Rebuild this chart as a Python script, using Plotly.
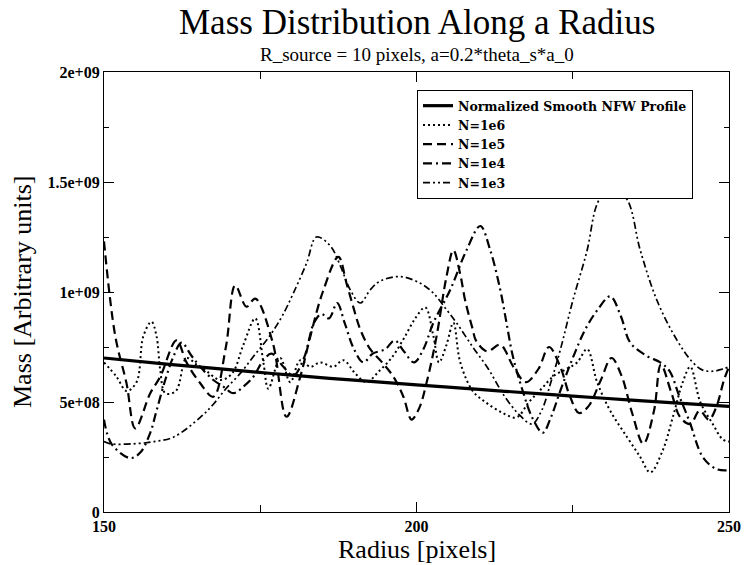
import plotly.graph_objects as go

# ---- data (mass in units of 1e8) ----
nfw_x = [150, 160, 170, 180, 190, 200, 210, 220, 230, 240, 250]
nfw_y = [7.0, 6.72, 6.47, 6.22, 5.99, 5.78, 5.57, 5.37, 5.17, 4.98, 4.8]

n1e6_x = [150, 152, 153.6, 155.2, 156.3, 157.6, 158.4, 159, 159.8, 161.5, 163.2, 164.8, 166.4, 168.6,
          170.5, 172.3, 174.2, 175.5, 176.3, 178.2, 179.8, 181.4, 183, 184.6, 186.7, 188.3, 190.2,
          192, 194, 196, 198, 199.8, 201.4, 202.7, 203.6, 204.8, 205.9, 207, 209, 211, 213.8, 216,
          218, 220, 222, 224, 225.7, 227.3, 228.9, 231, 233.7, 235.8, 237.4, 239.4, 241, 242.6,
          243.8, 245.4, 247.4, 249, 250]
n1e6_y = [6.8, 6.15, 5.5, 5.9, 8.0, 8.65, 8.0, 6.45, 5.4, 5.5, 7.0, 6.7, 6.4, 6.0,
          6.3, 7.6, 8.8, 6.8, 5.6, 7.0, 5.9, 6.9, 6.6, 6.8, 6.6, 6.9, 6.3,
          5.9, 6.4, 7.0, 7.9, 8.8, 9.3, 8.0, 6.8, 7.6, 8.6, 6.8, 5.5, 5.0, 4.5, 4.3,
          5.0, 5.6, 6.2, 6.5, 6.8, 7.4, 5.9, 4.6, 3.4, 2.5, 1.8, 2.8, 4.3, 5.9,
          6.6, 5.0, 4.0, 3.3, 3.2]

n1e5_x = [150, 151.8, 153.6, 155, 157.4, 159, 161.6, 163.2, 165.4, 167.5, 169.5, 171, 172.8, 174.2,
          177, 179.2, 181.4, 183, 185, 187.5, 188.8, 189.9, 191, 192.6, 194.5, 196.3, 197.9, 199.2,
          200.4, 201.6, 203.2, 204.8, 205.9, 207, 207.8, 209, 209.5, 211.3, 213.4, 215.5, 217.5,
          219.5, 221.2, 223, 224.5, 226, 227.5, 229.5, 231.2, 232.8, 234.5, 236.3, 238, 239.1,
          240.8, 242.2, 243.8, 245.3, 246.8, 248, 249.2, 250]
n1e5_y = [12.3, 8.0, 5.85, 3.8, 5.4, 6.15, 7.8, 6.8, 5.85, 5.24, 7.5, 10.3, 9.33, 9.7,
          7.7, 4.33, 6.15, 7.97, 10.0, 11.6, 10.4, 9.3, 8.3, 7.4, 6.8, 6.15, 5.24, 4.2,
          4.7, 5.86, 7.97, 10.7, 11.9, 10.8, 9.6, 8.3, 7.8, 7.3, 7.6, 6.6, 5.9,
          6.5, 7.5, 6.6, 5.3, 4.5, 4.8, 6.0, 7.0, 6.2, 4.5, 3.1, 4.6, 6.7,
          5.4, 4.3, 4.0, 4.6, 4.2, 4.8, 6.0, 6.6]

n1e4_x = [150, 151.2, 154.2, 155.8, 157.4, 158.4, 159.8, 161.1, 162.4, 164, 165.4, 167.5, 169.1,
          170.7, 172.3, 173.9, 175.5, 176.8, 178.7, 180.3, 182, 183.6, 184.8, 186, 187.3, 188.5,
          190, 191.5, 193, 195, 196.5, 198, 199.6, 201.1, 202.7, 205.4, 208, 210.2, 211.8, 213.4,
          214.4, 215.4, 217, 218.5, 220.2, 221.5, 223, 225, 227, 229, 231, 232.7, 234.2, 236.8,
          239, 240.5, 242, 243.7, 245.8, 248, 250]
n1e4_y = [4.2, 3.1, 2.45, 2.7, 3.6, 4.6, 6.0, 7.06, 7.7, 7.1, 6.6, 6.0, 5.7,
          5.4, 5.7, 6.15, 6.9, 7.2, 6.6, 6.2, 7.0, 8.6, 9.0, 8.8, 9.5, 8.6,
          7.4, 6.8, 7.2, 7.4, 7.8, 7.3, 6.8, 7.4, 8.6, 10.1, 11.9, 13.0, 11.9, 10.1,
          8.6, 7.1, 5.5, 4.3, 3.6, 4.3, 5.5, 7.0, 8.3, 9.2, 9.8, 8.9, 7.7, 7.1,
          6.8, 6.4, 5.3, 4.1, 2.5, 1.95, 1.9]

n1e3_x = [150, 151, 154.7, 158, 161.1, 165.4, 167.5, 169.5, 171.8, 174, 176.5, 178.5, 180.3, 182.4,
          184, 186.2, 187.8, 189.4, 191, 192.6, 194.2, 197.4, 200.6, 202.7, 204.8, 206.4, 209,
          211.5, 214, 216.5, 218.5, 220, 221.5, 223, 225, 227.3, 228.9, 231, 233.7, 235.8, 238.5,
          241.7, 244.2, 245.8, 247.5, 249, 250]
n1e3_y = [3.2, 3.1, 3.1, 3.2, 3.4, 4.3, 4.9, 5.6, 6.3, 7.1, 8.0, 8.9, 9.95, 11.3,
          12.5, 12.1, 11.2, 10.1, 9.5, 10.1, 10.5, 10.7, 10.4, 9.95, 9.2, 8.6, 7.5,
          6.5, 5.3, 4.4, 4.0, 4.6, 5.9, 7.36, 9.6, 11.9, 14.0, 14.9, 14.2, 11.9, 9.6,
          7.8, 6.8, 6.45, 6.4, 6.5, 6.6]

y_ticks = [0, 5e8, 1e9, 1.5e9, 2e9]
y_tick_text = ["0", "5e+08", "1e+09", "1.5e+09", "2e+09"]
x_ticks = [150, 200, 250]

SCALE = 1e8
SERIF = "Liberation Serif, Times New Roman, serif"
LEGEND_FONT = "DejaVu Serif, Liberation Serif, serif"


def scaled(v):
    return [a * SCALE for a in v]


fig = go.Figure()
fig.add_trace(go.Scatter(x=nfw_x, y=scaled(nfw_y), mode="lines", name="Normalized Smooth NFW Profile",
                         line=dict(color="black", width=3.2, shape="spline")))
fig.add_trace(go.Scatter(x=n1e6_x, y=scaled(n1e6_y), mode="lines", name="N=1e6",
                         line=dict(color="black", width=2, dash="2px,3px", shape="spline")))
fig.add_trace(go.Scatter(x=n1e5_x, y=scaled(n1e5_y), mode="lines", name="N=1e5",
                         line=dict(color="black", width=2.2, dash="9px,5px", shape="spline")))
fig.add_trace(go.Scatter(x=n1e4_x, y=scaled(n1e4_y), mode="lines", name="N=1e4",
                         line=dict(color="black", width=2.2, dash="9px,4px,2px,4px", shape="spline")))
fig.add_trace(go.Scatter(x=n1e3_x, y=scaled(n1e3_y), mode="lines", name="N=1e3",
                         line=dict(color="black", width=1.7, dash="7px,3px,2px,3px,2px,3px", shape="spline")))

axis_common = dict(showgrid=False, zeroline=False, showline=True, linecolor="black", linewidth=1.2,
                   mirror="ticks", ticks="inside", ticklen=10, tickwidth=1.2, tickcolor="black",
                   automargin=False,
                   tickfont=dict(family=SERIF, size=16, color="black", weight="bold"))

fig.update_xaxes(range=[150, 250], tickvals=x_ticks,
                 minor=dict(ticks="inside", ticklen=7, dtick=25, tickcolor="black"),
                 **axis_common)
fig.update_yaxes(range=[0, 2e9], tickvals=y_ticks, ticktext=y_tick_text,
                 minor=dict(ticks="inside", ticklen=5, dtick=2.5e8, tickcolor="black"),
                 **axis_common)

annotations = [
    dict(text="Mass Distribution Along a Radius", xref="paper", yref="paper", x=0.5, y=1,
         xanchor="center", yanchor="bottom", yshift=28, showarrow=False,
         font=dict(family=SERIF, size=35, color="black")),
    dict(text="R_source = 10 pixels, a=0.2*theta_s*a_0", xref="paper", yref="paper", x=0.5, y=1,
         xanchor="center", yanchor="bottom", yshift=5, showarrow=False,
         font=dict(family=SERIF, size=19, color="black")),
    dict(text="Radius [pixels]", xref="paper", yref="paper", x=0.5, y=0,
         xanchor="center", yanchor="top", yshift=-21, showarrow=False,
         font=dict(family=SERIF, size=26, color="black")),
    dict(text="Mass [Arbitrary units]", xref="paper", yref="paper", x=-0.1312, y=0.5,
         xanchor="center", yanchor="middle", textangle=-90, showarrow=False,
         font=dict(family=SERIF, size=26, color="black")),
]

fig.update_layout(
    width=746, height=565,
    margin=dict(l=104, r=17, t=72, b=53, autoexpand=False),
    paper_bgcolor="white", plot_bgcolor="white",
    annotations=annotations,
    legend=dict(x=0.5008, y=0.959, xanchor="left", yanchor="top",
                bgcolor="white", bordercolor="black", borderwidth=1,
                font=dict(family=LEGEND_FONT, size=12.5, color="black", weight="bold"),
                tracegroupgap=0, itemwidth=30),
    showlegend=True,
)

fig.write_html("out.html")
